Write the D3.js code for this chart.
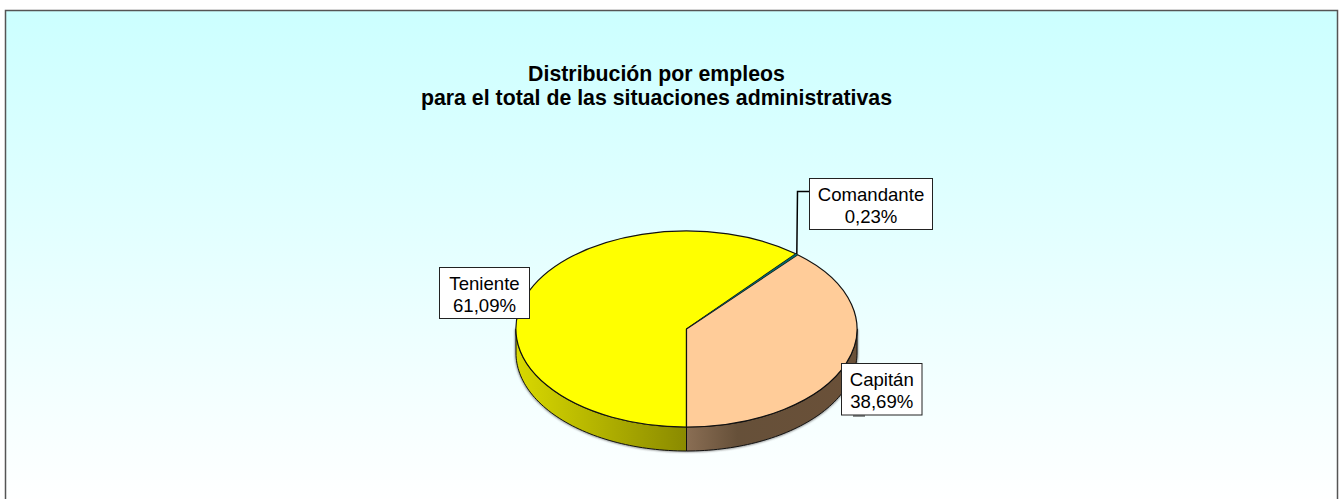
<!DOCTYPE html>
<html>
<head>
<meta charset="utf-8">
<script src="https://cdn.jsdelivr.net/npm/d3@7"></script>
<style>
  html, body { margin: 0; padding: 0; background: #fff; overflow: hidden; }
  svg { display: block; }
  text { font-family: "Liberation Sans", Arial, sans-serif; fill: #000; }
</style>
</head>
<body>
<svg id="chart" width="1339" height="499"></svg>
<script>
'use strict';

const categories = ['Teniente', 'Comandante', 'Capitán'];
const values = [61.09, 0.23, 38.69];
const valueLabels = ['61,09%', '0,23%', '38,69%'];
const sliceColors = ['#ffff00', '#006666', '#ffcc99'];
const titleLines = ['Distribución por empleos', 'para el total de las situaciones administrativas'];

const cx = 686.5;
const cy = 329;
const rx = 170.5;
const ry = 98;
const depth = 24;

const svg = d3.select('#chart');
const defs = svg.append('defs');

const addGradient = (id, attrs, stops) => {
  const gradient = defs.append('linearGradient').attr('id', id);
  Object.entries(attrs).forEach(([k, v]) => gradient.attr(k, v));
  stops.forEach(([offset, color]) => {
    gradient.append('stop').attr('offset', offset).attr('stop-color', color);
  });
};

addGradient('bg', { x1: 0, y1: 0, x2: 0, y2: 1 }, [['0%', '#ccffff'], ['100%', '#ffffff']]);
addGradient('wallYellow', {
  gradientUnits: 'userSpaceOnUse', x1: cx - rx, x2: cx, y1: 0, y2: 0,
}, [['0%', '#d9d900'], ['100%', '#8a8a00']]);
addGradient('wallBrown', {
  gradientUnits: 'userSpaceOnUse', x1: cx, x2: cx + rx, y1: 0, y2: 0,
}, [['0%', '#8a6e54'], ['30%', '#665039'], ['100%', '#6a5038']]);

defs.append('filter')
  .attr('id', 'soft')
  .attr('x', '-5%')
  .attr('y', '-5%')
  .attr('width', '110%')
  .attr('height', '110%')
  .append('feGaussianBlur')
  .attr('stdDeviation', 1);

// frame
svg.append('rect')
  .attr('x', 5.5)
  .attr('y', 10.5)
  .attr('width', 1332)
  .attr('height', 495)
  .attr('fill', 'url(#bg)')
  .attr('stroke', '#555')
  .attr('stroke-width', 1.5);

svg.append('text')
  .attr('text-anchor', 'middle')
  .attr('font-size', 21.3)
  .attr('font-weight', 'bold')
  .selectAll('tspan')
  .data(titleLines)
  .join('tspan')
  .attr('x', 656.5)
  .attr('y', (d, i) => 81 + i * 24)
  .text((d) => d);

const pieData = d3.pie()
  .sort(null)
  .startAngle(Math.PI)
  .endAngle(3 * Math.PI)(values);

// angle is clockwise from the top, same as d3.arc
const projectX = (a) => cx + rx * Math.sin(a);
const projectY = (a) => cy - ry * Math.cos(a);

const wallPath = (a0, a1) => {
  const p = d3.path();
  p.moveTo(projectX(a0), projectY(a0));
  p.lineTo(projectX(a0), projectY(a0) + depth);
  const steps = 60;
  d3.range(1, steps + 1).forEach((i) => {
    const a = a0 + ((a1 - a0) * i) / steps;
    p.lineTo(projectX(a), projectY(a) + depth);
  });
  d3.range(steps, -1, -1).forEach((i) => {
    const a = a0 + ((a1 - a0) * i) / steps;
    p.lineTo(projectX(a), projectY(a));
  });
  p.closePath();
  return p.toString();
};

const pieGroup = svg.append('g');

// faint shadow round the wall
pieGroup.append('path')
  .attr('d', wallPath(Math.PI / 2, 1.5 * Math.PI))
  .attr('fill', 'none')
  .attr('stroke', '#777')
  .attr('stroke-width', 2)
  .attr('filter', 'url(#soft)');

pieGroup.append('path')
  .attr('d', wallPath(Math.PI / 2, Math.PI))
  .attr('fill', 'url(#wallBrown)')
  .attr('stroke', '#111')
  .attr('stroke-width', 1);

pieGroup.append('path')
  .attr('d', wallPath(Math.PI, 1.5 * Math.PI))
  .attr('fill', 'url(#wallYellow)')
  .attr('stroke', '#111')
  .attr('stroke-width', 1);

const arc = d3.arc().innerRadius(0).outerRadius(1);

pieGroup.append('g')
  .attr('transform', `translate(${cx},${cy}) scale(${rx},${ry})`)
  .selectAll('path')
  .data(pieData)
  .join('path')
  .attr('d', arc)
  .attr('fill', (d, i) => sliceColors[i])
  .attr('stroke', (d, i) => (i === 1 ? 'none' : '#111'))
  .attr('stroke-width', 1.2)
  .attr('vector-effect', 'non-scaling-stroke')
  .filter((d, i) => i === 1)
  .raise();

// leader line for the thin slice
const midAngle = (pieData[1].startAngle + pieData[1].endAngle) / 2;
const leader = d3.path();
leader.moveTo(projectX(midAngle), projectY(midAngle));
leader.lineTo(797.5, 191.5);
leader.lineTo(810, 191.5);
svg.append('path')
  .attr('d', leader.toString())
  .attr('fill', 'none')
  .attr('stroke', '#000')
  .attr('stroke-width', 1.5);

// stub of the leader under the Capitán box
svg.append('line')
  .attr('x1', 853)
  .attr('x2', 865)
  .attr('y1', 416)
  .attr('y2', 416)
  .attr('stroke', '#222')
  .attr('stroke-width', 1);

// label boxes, [x, y, w, h]
const labelBoxes = [[439.5, 267.5, 90, 51], [809.5, 178.5, 123, 51], [841.5, 363.5, 80.5, 51.5]];

const labels = svg.append('g')
  .selectAll('g')
  .data(categories)
  .join('g');

labels.append('rect')
  .attr('x', (d, i) => labelBoxes[i][0])
  .attr('y', (d, i) => labelBoxes[i][1])
  .attr('width', (d, i) => labelBoxes[i][2])
  .attr('height', (d, i) => labelBoxes[i][3])
  .attr('fill', '#fff')
  .attr('stroke', '#222')
  .attr('stroke-width', 1);

labels.each(function (d, i) {
  const [x, y, w] = labelBoxes[i];
  const group = d3.select(this);
  [d, valueLabels[i]].forEach((line, j) => {
    group.append('text')
      .attr('x', x + w / 2)
      .attr('y', y + 22 + j * 22)
      .attr('text-anchor', 'middle')
      .attr('font-size', 18.6)
      .text(line);
  });
});
</script>
</body>
</html>
